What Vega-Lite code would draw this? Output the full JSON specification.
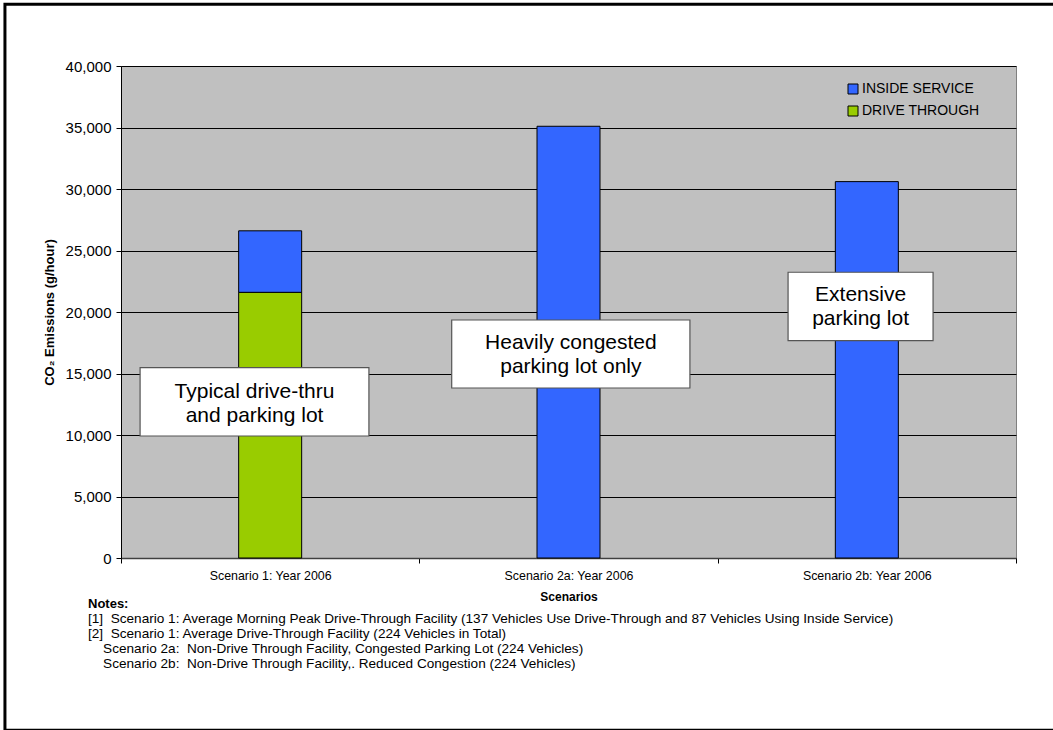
{
  "$schema": "https://vega.github.io/schema/vega-lite/v6.json",
  "width": 895,
  "height": 492,
  "autosize": {"type": "none"},
  "padding": {"left": 121, "top": 66, "right": 37, "bottom": 172},
  "background": "white",
  "config": {
    "font": "Liberation Sans",
    "view": {"fill": "#C0C0C0", "stroke": "#808080", "strokeWidth": 1},
    "axis": {"labelColor": "black", "titleColor": "black", "labelFont": "Liberation Sans", "titleFont": "Liberation Sans"}
  },
  "title": {
    "text": "Notes:",
    "subtitle": [
      "[1]\u00a0 Scenario 1: Average Morning Peak Drive-Through Facility (137 Vehicles Use Drive-Through and 87 Vehicles Using Inside Service)",
      "[2]\u00a0 Scenario 1: Average Drive-Through Facility (224 Vehicles in Total)",
      "\u200b\u00a0\u00a0\u00a0\u00a0Scenario 2a:\u00a0 Non-Drive Through Facility, Congested Parking Lot (224 Vehicles)",
      "\u200b\u00a0\u00a0\u00a0\u00a0Scenario 2b:\u00a0 Non-Drive Through Facility,. Reduced Congestion (224 Vehicles)"
    ],
    "orient": "bottom",
    "anchor": "start",
    "frame": "group",
    "dx": -33,
    "offset": -134,
    "font": "Liberation Sans",
    "fontSize": 13,
    "fontWeight": "bold",
    "color": "black",
    "subtitleFont": "Liberation Sans",
    "subtitleFontSize": 13.6,
    "subtitleColor": "black",
    "subtitleLineHeight": 15,
    "subtitlePadding": 1
  },
  "datasets": {
    "bars": [
      {"scenario": "Scenario 1: Year 2006", "service": "DRIVE THROUGH", "co2": 21600},
      {"scenario": "Scenario 1: Year 2006", "service": "INSIDE SERVICE", "co2": 5000},
      {"scenario": "Scenario 2a: Year 2006", "service": "INSIDE SERVICE", "co2": 35100},
      {"scenario": "Scenario 2b: Year 2006", "service": "INSIDE SERVICE", "co2": 30600}
    ],
    "boxes": [
      {"label": "Typical drive-thru\nand parking lot", "x1": 0.064, "x2": 0.831, "y1": 15470, "y2": 9920, "xc": 0.4475, "yc": 13520},
      {"label": "Heavily congested\nparking lot only", "x1": 1.1085, "x2": 1.907, "y1": 19350, "y2": 13820, "xc": 1.508, "yc": 17500},
      {"label": "Extensive\nparking lot", "x1": 2.236, "x2": 2.722, "y1": 23230, "y2": 17670, "xc": 2.479, "yc": 21400}
    ],
    "frame": [{"x1": -0.389, "x2": 3.6, "y1": 45030, "y2": -14000}]
  },
  "resolve": {"scale": {"x": "independent"}, "axis": {"y": "independent"}},
  "layer": [
    {
      "data": {"name": "bars"},
      "mark": {"type": "bar", "size": 63, "stroke": "black", "strokeWidth": 1},
      "encoding": {
        "x": {
          "field": "scenario", "type": "nominal", "sort": null,
          "scale": {"paddingInner": 0, "paddingOuter": 0},
          "axis": {
            "title": "Scenarios", "titleFontSize": 12, "titleFontWeight": "bold", "titlePadding": 10,
            "labelAngle": 0, "labelFontSize": 12.4, "labelPadding": 6,
            "tickBand": "extent", "ticks": true, "tickSize": 5, "tickColor": "black",
            "domainColor": "#404040", "domainWidth": 1.5, "grid": false
          }
        },
        "y": {
          "field": "co2", "type": "quantitative", "stack": "zero",
          "scale": {"domain": [0, 40000], "nice": false},
          "axis": {
            "title": "CO₂ Emissions (g/hour)", "titleFontSize": 13, "titleFontWeight": "bold", "titlePadding": 9,
            "values": [0, 5000, 10000, 15000, 20000, 25000, 30000, 35000, 40000],
            "format": ",.0f", "formatType": "number", "labelFontSize": 15, "labelPadding": 5,
            "grid": true, "gridColor": "black", "gridWidth": 1, "gridOpacity": 1,
            "tickColor": "black", "tickSize": 5, "domainColor": "black"
          }
        },
        "color": {
          "field": "service", "type": "nominal",
          "scale": {"domain": ["INSIDE SERVICE", "DRIVE THROUGH"], "range": ["#3366FF", "#99CC00"]},
          "legend": {
            "title": null, "orient": "none", "legendX": 716, "legendY": 7,
            "padding": 9,
            "symbolType": "square", "symbolSize": 100, "symbolStrokeColor": "black", "symbolStrokeWidth": 1,
            "labelFontSize": 14, "labelColor": "black", "labelFont": "Liberation Sans", "rowPadding": 8, "labelOffset": 2
          }
        },
        "order": {"field": "service", "sort": "ascending"}
      }
    },
    {
      "data": {"name": "boxes"},
      "mark": {"type": "rect", "fill": "white", "stroke": "#555555", "strokeWidth": 1.2},
      "encoding": {
        "x": {"field": "x1", "type": "quantitative", "scale": {"domain": [0, 3], "nice": false, "zero": false}, "axis": null},
        "x2": {"field": "x2"},
        "y": {"field": "y1", "type": "quantitative", "scale": {"domain": [0, 40000], "nice": false}, "axis": null},
        "y2": {"field": "y2"}
      }
    },
    {
      "data": {"name": "boxes"},
      "mark": {"type": "text", "lineBreak": "\n", "fontSize": 21, "lineHeight": 24, "align": "center", "baseline": "middle", "color": "black", "font": "Liberation Sans"},
      "encoding": {
        "x": {"field": "xc", "type": "quantitative", "scale": {"domain": [0, 3], "nice": false, "zero": false}, "axis": null},
        "y": {"field": "yc", "type": "quantitative", "scale": {"domain": [0, 40000], "nice": false}, "axis": null},
        "text": {"field": "label", "type": "nominal"}
      }
    },
    {
      "data": {"name": "frame"},
      "mark": {"type": "rect", "fill": null, "fillOpacity": 0, "stroke": "black", "strokeWidth": 3},
      "encoding": {
        "x": {"field": "x1", "type": "quantitative", "scale": {"domain": [0, 3], "nice": false, "zero": false}, "axis": null},
        "x2": {"field": "x2"},
        "y": {"field": "y1", "type": "quantitative", "scale": {"domain": [0, 40000], "nice": false}, "axis": null},
        "y2": {"field": "y2"}
      }
    }
  ]
}
